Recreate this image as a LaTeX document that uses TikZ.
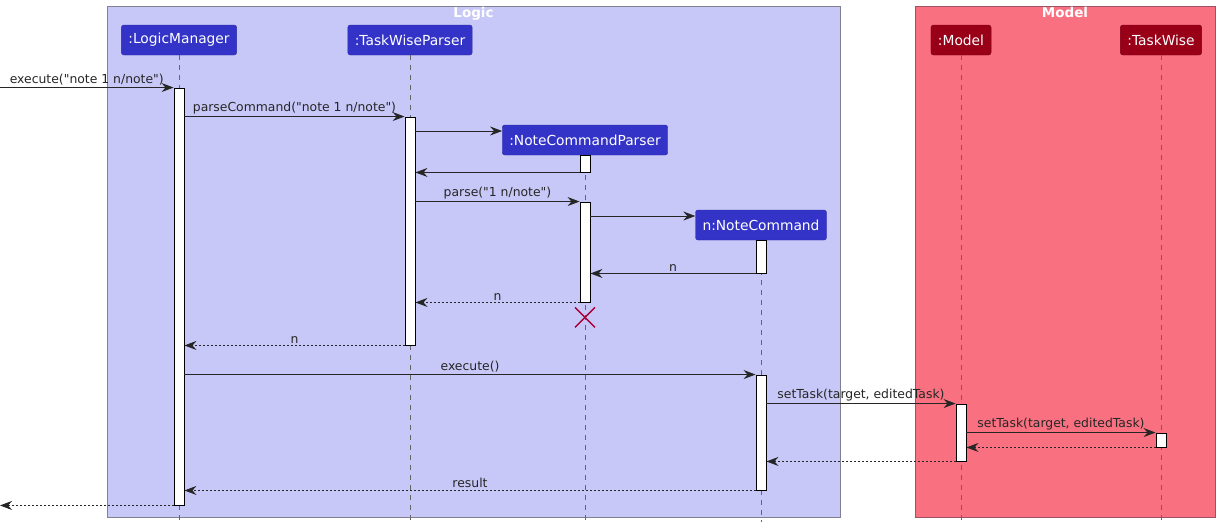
\documentclass[tikz,border=0pt]{standalone}
\usepackage{fontspec}
\setmainfont{DejaVu Sans}[Ligatures=TeXOff]
\usetikzlibrary{arrows.meta, positioning}

\definecolor{logicbg}{RGB}{200,200,248}
\definecolor{logicline}{RGB}{128,128,144}
\definecolor{modelbg}{RGB}{249,113,129}
\definecolor{modelline}{RGB}{160,80,96}
\definecolor{logicpart}{RGB}{51,51,200}
\definecolor{modelpart}{RGB}{153,0,24}
\definecolor{destroyred}{RGB}{168,0,54}

\begin{document}
\begin{tikzpicture}[
    x=1pt, y=-1pt,
    every node/.style={font=\fontsize{12.4}{14}\selectfont},
    framebox/.style={rectangle, draw=#1, line width=0.9pt, inner sep=0},
    frametitle/.style={font=\fontsize{13.5}{15}\selectfont\bfseries, text=white, inner sep=1pt},
    part/.style={rectangle, rounded corners=2.5pt, draw=#1!80!black, fill=#1, text=white, minimum height=30pt, inner xsep=7pt, font=\fontsize{13.8}{16}\selectfont},
    act/.style={rectangle, draw=black, fill=white, line width=0.9pt, minimum width=10pt, inner sep=0},
    life/.style={draw=black!60, line width=0.6pt, dash pattern=on 5pt off 5pt},
    msg/.style={-{Stealth[length=12pt, width=9pt, inset=4pt]}, line width=0.8pt, black!85},
    ret/.style={msg, dash pattern=on 2pt off 2pt},
    lbl/.style={above=0.5pt, midway, inner sep=1.5pt},
    destroy/.style={draw=destroyred, line width=1.4pt}
]
\useasboundingbox (0,0) rectangle (1220,528);

% frames
\node[framebox=logicline, fill=logicbg, minimum width=733pt, minimum height=511pt] (logicF) at (473.5,261.5) {};
\node[framebox=modelline, fill=modelbg, minimum width=300pt, minimum height=511pt] (modelF) at (1065,261.5) {};
\node[frametitle, below=0.5pt of logicF.north] (logicT) {Logic};
\node[frametitle, below=0.5pt of modelF.north] (modelT) {Model};

% participants
\node[part=logicpart] (lm) at (179,40) {:LogicManager};
\node[part=logicpart] (twp) at (410,40) {:TaskWiseParser};
\node[part=logicpart] (ncp) at (585,140) {:NoteCommandParser};
\node[part=logicpart] (nc) at (761,225) {n:NoteCommand};
\node[part=modelpart] (mdl) at (961,40) {:Model};
\node[part=modelpart] (tw) at (1161,40) {:TaskWise};

% lifelines
\coordinate (bottom) at (0,522);
\coordinate (edge) at (0,0);
\foreach \p in {lm, twp, ncp, nc, mdl, tw}
  \draw[life] (\p.south) -- (\p.south |- bottom);

% activations
\node[act, minimum height=417pt] (lmA) at (179,296.5) {};
\node[act, minimum height=228pt] (twpA) at (410,231) {};
\node[act, minimum height=17pt] (ncpA1) at (585,163.5) {};
\node[act, minimum height=100pt] (ncpA2) at (585,252) {};
\node[act, minimum height=33pt] (ncA1) at (761,256.5) {};
\node[act, minimum height=115pt] (ncA2) at (761,432.5) {};
\node[act, minimum height=57pt] (mdlA) at (961,432.5) {};
\node[act, minimum height=14pt] (twA) at (1161,440) {};

% messages
\draw[msg] (edge |- lmA.north) -- (lmA.north west) node[lbl] {execute("note 1 n/note")};
\draw[msg] (lmA.east |- twpA.north) -- (twpA.north west) node[lbl] {parseCommand("note 1 n/note")};
\draw[msg] ([yshift=9pt]twpA.east |- ncp.west) -- ([yshift=9pt]ncp.west);
\draw[msg] (ncpA1.south west) -- (twpA.east |- ncpA1.south);
\draw[msg] (twpA.east |- ncpA2.north) -- (ncpA2.north west) node[lbl] {parse("1 n/note")};
\draw[msg] ([yshift=9pt]ncpA2.east |- nc.west) -- ([yshift=9pt]nc.west);
\draw[msg] (ncA1.south west) -- (ncpA2.east |- ncA1.south) node[lbl] {n};
\draw[ret] (ncpA2.south west) -- (twpA.east |- ncpA2.south) node[lbl] {n};
\draw[ret] (twpA.south west) -- (lmA.east |- twpA.south) node[lbl] {n};
\draw[msg] (lmA.east |- ncA2.north) -- (ncA2.north west) node[lbl] {execute()};
\draw[msg] (ncA2.east |- mdlA.north) -- (mdlA.north west) node[lbl] {setTask(target, editedTask)};
\draw[msg] (mdlA.east |- twA.north) -- (twA.north west) node[lbl] {setTask(target, editedTask)};
\draw[ret] (twA.south west) -- (mdlA.east |- twA.south);
\draw[ret] (mdlA.south west) -- (ncA2.east |- mdlA.south);
\draw[ret] (ncA2.south west) -- (lmA.east |- ncA2.south) node[lbl] {result};
\draw[ret] (lmA.south west) -- (edge |- lmA.south);

% destroy mark
\coordinate (ncpX) at ([yshift=-15pt]ncpA2.south);
\draw[destroy] ([shift={(-10pt,-10pt)}]ncpX) -- ([shift={(10pt,10pt)}]ncpX);
\draw[destroy] ([shift={(-10pt,10pt)}]ncpX) -- ([shift={(10pt,-10pt)}]ncpX);
\end{tikzpicture}
\end{document}
